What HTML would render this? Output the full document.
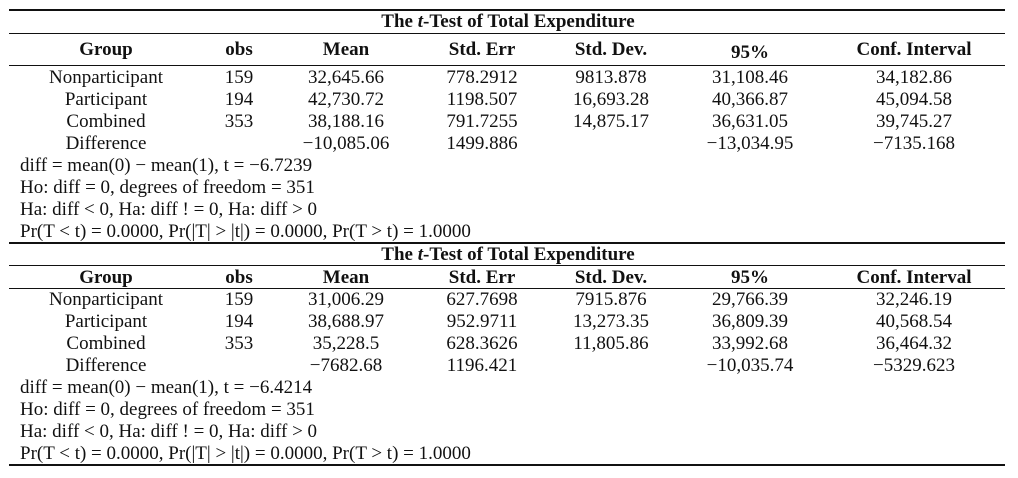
<!DOCTYPE html><html><head><style>
body{margin:0;width:1018px;height:478px;background:#fff;position:relative;font-family:"Liberation Serif",serif;font-size:19px;color:#111;overflow:hidden}
.l{position:absolute;left:9px;width:996px;background:#111}
.t{position:absolute;white-space:nowrap;transform:translate(-50%,-50%)}
.x{position:absolute;white-space:nowrap;left:20px;transform:translateY(-50%)}
b{font-weight:bold}
</style></head><body>
<div id="c"></div>
<script>
var c=document.body,h='';
function L(y,w){h+='<div class="l" style="top:'+y+'px;height:'+w+'px"></div>';}
function T(x,y,s,b){h+='<div class="t" style="left:'+x+'px;top:'+y+'px">'+(b?'<b>'+s+'</b>':s)+'</div>';}
var X=[106,239,346,482,611,750,914];
var D=[[["Nonparticipant","159","32,645.66","778.2912","9813.878","31,108.46","34,182.86"],["Participant","194","42,730.72","1198.507","16,693.28","40,366.87","45,094.58"],["Combined","353","38,188.16","791.7255","14,875.17","36,631.05","39,745.27"],["Difference","","&minus;10,085.06","1499.886","","&minus;13,034.95","&minus;7135.168"]],
[["Nonparticipant","159","31,006.29","627.7698","7915.876","29,766.39","32,246.19"],["Participant","194","38,688.97","952.9711","13,273.35","36,809.39","40,568.54"],["Combined","353","35,228.5","628.3626","11,805.86","33,992.68","36,464.32"],["Difference","","&minus;7682.68","1196.421","","&minus;10,035.74","&minus;5329.623"]]];
var TX=[["diff = mean(0) &minus; mean(1), t = &minus;6.7239","Ho: diff = 0, degrees of freedom = 351","Ha: diff &lt; 0, Ha: diff ! = 0, Ha: diff &gt; 0","Pr(T &lt; t) = 0.0000, Pr(|T| &gt; |t|) = 0.0000, Pr(T &gt; t) = 1.0000"],
["diff = mean(0) &minus; mean(1), t = &minus;6.4214","Ho: diff = 0, degrees of freedom = 351","Ha: diff &lt; 0, Ha: diff ! = 0, Ha: diff &gt; 0","Pr(T &lt; t) = 0.0000, Pr(|T| &gt; |t|) = 0.0000, Pr(T &gt; t) = 1.0000"]];
var H=["Group","obs","Mean","Std. Err","Std. Dev.","95%","Conf. Interval"];
var B=[{l:[9,33,65],t:22,h:50,r:78,x:166},{l:[242,265,288],t:255,h:278,r:300,x:388}];
B.forEach(function(b,k){
 L(b.l[0],2);L(b.l[1],1);L(b.l[2],1);
 T(508,b.t,'The <i>t</i>-Test of Total Expenditure',1);
 H.forEach(function(s,i){T(X[i],b.h+(i==5&&k==0?3:0),s,1);});
 D[k].forEach(function(r,j){r.forEach(function(s,i){T(X[i],b.r+22*j,s);});});
 TX[k].forEach(function(s,j){h+='<div class="x" style="top:'+(b.x+22*j)+'px">'+s+'</div>';});
});
L(464,2);
c.innerHTML=h;
</script></body></html>
